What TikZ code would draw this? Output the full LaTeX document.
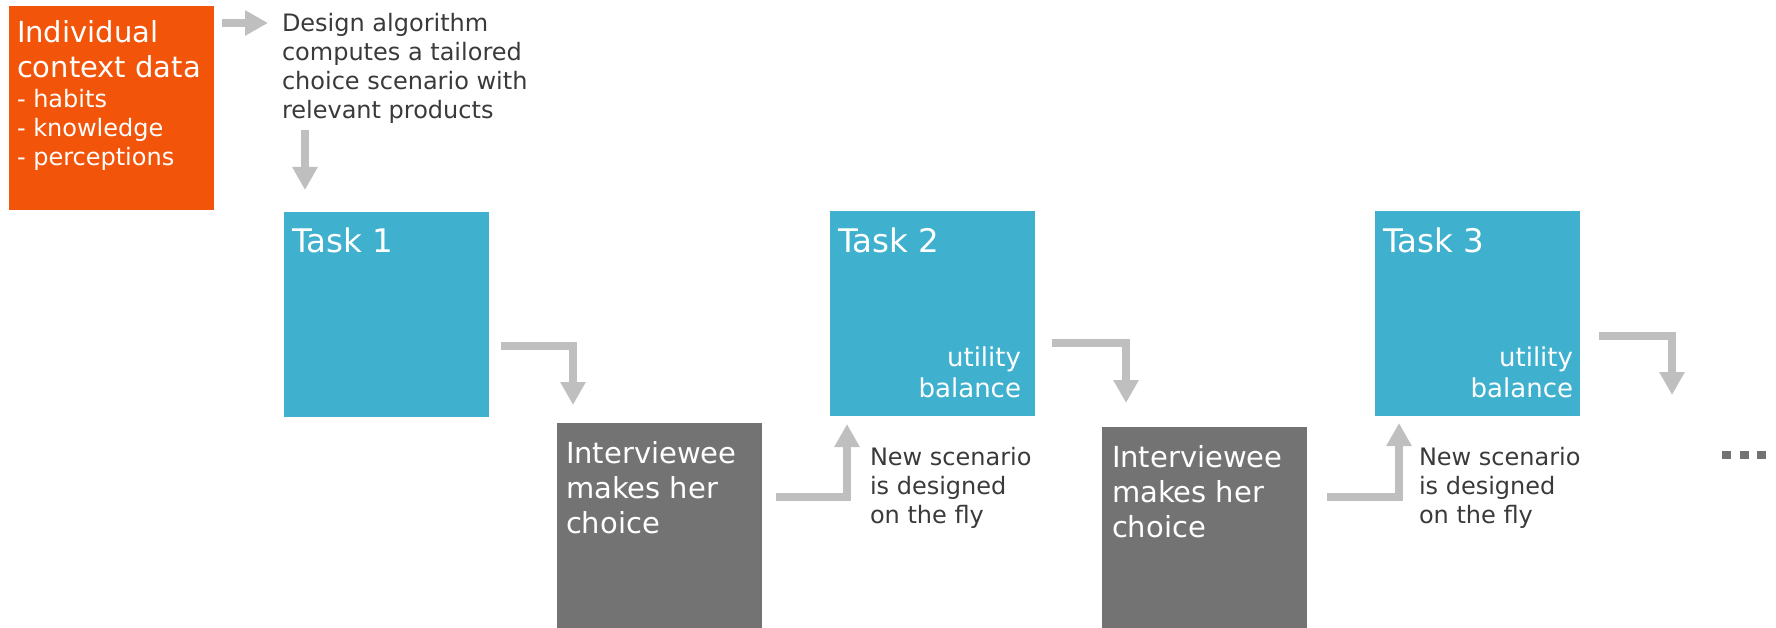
\documentclass[tikz,border=0pt]{standalone}
\usepackage{fontspec}
\setmainfont{DejaVu Sans}
\usetikzlibrary{arrows.meta,calc}
\definecolor{orng}{HTML}{F2540A}
\definecolor{blu}{HTML}{3FB1CE}
\definecolor{gry}{HTML}{737373}
\definecolor{arrg}{HTML}{BFBFBF}
\definecolor{txt}{HTML}{3A3A3A}
\begin{document}
\begin{tikzpicture}[x=1pt,y=-1pt,
  box/.style={inner sep=0pt, outer sep=0pt, minimum width=205pt, minimum height=205pt, anchor=north west},
  lbl/.style={inner sep=0pt, outer sep=0pt, align=left, anchor=base west},
  f24/.style={font=\fontsize{24}{29}\selectfont},
  f26/.style={font=\fontsize{26}{31}\selectfont},
  f29/.style={font=\fontsize{29}{35}\selectfont},
  f32/.style={font=\fontsize{32.5}{38}\selectfont},
  arr/.style={draw=arrg, line width=8pt, -{Triangle[length=23pt,width=24pt]}}]
\useasboundingbox (0,0) rectangle (1776,628);
% boxes
\node[box, fill=orng, minimum height=204pt] (ctx) at (9,6) {};
\node[box, fill=blu] (t1) at (284,212) {};
\node[box, fill=blu] (t2) at (830,211) {};
\node[box, fill=blu] (t3) at (1375,211) {};
\node[box, fill=gry] (c1) at (557,423) {};
\node[box, fill=gry] (c2) at (1102,427) {};
% texts (anchor base = baseline of the last line)
\node[lbl, f29, text=white] (ctxa) at (17,78) {Individual\\context data};
\node[lbl, f24, text=white] (ctxb) at (17,166) {- habits\\- knowledge\\- perceptions};
\node[lbl, f24, text=txt] (des) at (282,119) {Design algorithm\\computes a tailored\\choice scenario with\\relevant products};
\node[lbl, f32, text=white] (t1l) at (292,253) {Task 1};
\node[lbl, f32, text=white] (t2l) at (838,253) {Task 2};
\node[lbl, f32, text=white] (t3l) at (1383,253) {Task 3};
\node[lbl, f26, text=white, align=right, anchor=base east] (t2u) at (1021,397) {utility\\balance};
\node[lbl, f26, text=white, align=right, anchor=base east] (t3u) at (1573,397) {utility\\balance};
\node[lbl, f29, text=white] (c1l) at (566,533) {Interviewee\\makes her\\choice};
\node[lbl, f29, text=white] (c2l) at (1112,537) {Interviewee\\makes her\\choice};
\node[lbl, f24, text=txt] (n1) at (870,523) {New scenario\\is designed\\on the fly};
\node[lbl, f24, text=txt] (n2) at (1419,523) {New scenario\\is designed\\on the fly};
% arrows
\draw[arr] ($(ctx.north east)+(8,17)$) -- ($(des.west |- ctx.north)+(-14,17)$);
\draw[arr] ($(t1.north west)+(21,-82)$) -- ($(t1.north west)+(21,-22)$);
\draw[arr] ($(t1.north east)+(12,134)$) -| ($(c1.north west)+(16,-18)$);
\draw[arr] ($(c1.north east)+(14,74)$) -| ($(t2.south west)+(17,8)$);
\draw[arr] ($(t2.north east)+(17,132)$) -| ($(c2.north west)+(24,-24)$);
\draw[arr] ($(c2.north east)+(20,70)$) -| ($(t3.south west)+(24,7)$);
\coordinate (endc) at (1672,395);
\draw[arr] ($(t3.north east)+(19,125)$) -| (endc);
% dots
\fill[gry] (1722,451) rectangle (1731,459);
\fill[gry] (1740,451) rectangle (1749,459);
\fill[gry] (1757,451) rectangle (1766,459);
\end{tikzpicture}
\end{document}
